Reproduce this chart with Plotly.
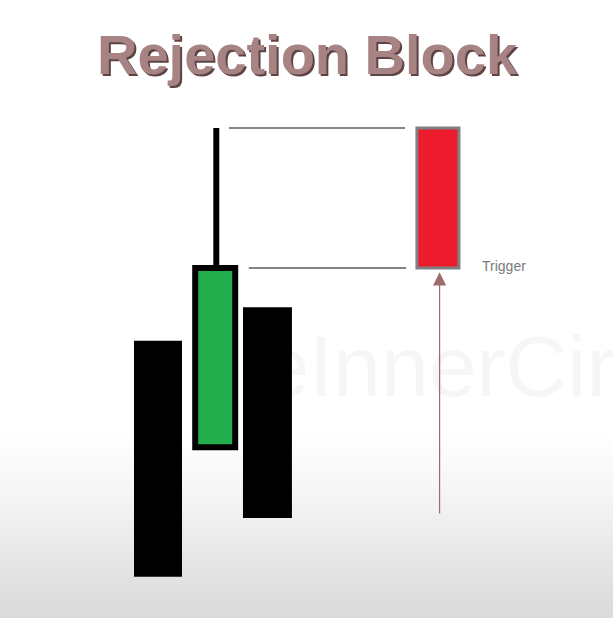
import base64
import plotly.graph_objects as go

# candle bodies (price units), left to right
candle_x = [1, 2.04, 2.99, 6.09]
candle_open = [69.6, 54.4, 74.4, 100]
candle_close = [35.9, 80, 44.3, 80]
candle_fill = ["#000000", "#22ac4b", "#000000", "#ec1c2e"]
candle_edge = ["#000000", "#000000", "#000000", "#808080"]

# upper wick of the rejection candle
wick_x = [2.06, 2.06]
wick_y = [80, 100]

# high / trigger levels drawn across to the red block
level_y = [100, 80]
level_x0 = [2.29, 2.65]
level_x1 = [5.49, 5.51]

arrow_from = 44.7
arrow_to = 79.4

svg = ('<svg xmlns="http://www.w3.org/2000/svg" width="10" height="100" preserveAspectRatio="none">'
       '<defs><linearGradient id="g" x1="0" y1="0" x2="0" y2="1">'
       '<stop offset="0" stop-color="#ffffff"/><stop offset="0.70" stop-color="#ffffff"/>'
       '<stop offset="0.80" stop-color="#f5f5f5"/><stop offset="0.95" stop-color="#e0e0e0"/>'
       '<stop offset="1" stop-color="#dadada"/>'
       '</linearGradient></defs><rect width="10" height="100" fill="url(#g)"/></svg>')
bg = "data:image/svg+xml;base64," + base64.b64encode(svg.encode()).decode()

fig = go.Figure()

# faint watermark, sits under the candles
fig.add_trace(go.Scatter(x=[2.88], y=[64.8], mode="text", text=["eInnerCirc"],
                         textposition="middle right", hoverinfo="skip",
                         textfont=dict(family="Liberation Sans", size=86, color="rgba(0,0,0,0.035)")))

fig.add_trace(go.Scatter(x=wick_x, y=wick_y, mode="lines", hoverinfo="skip",
                         line=dict(color="#000000", width=6)))

for i in range(len(level_y)):
    fig.add_trace(go.Scatter(x=[level_x0[i], level_x1[i]], y=[level_y[i], level_y[i]], mode="lines",
                             hoverinfo="skip", line=dict(color="#5c5c5c", width=1.5)))

widths = [0.873, 0.727, 0.89, 0.764]
lws = [0, 6, 0, 3]
for i in range(len(candle_x)):
    lo = min(candle_open[i], candle_close[i])
    hi = max(candle_open[i], candle_close[i])
    fig.add_trace(go.Bar(x=[candle_x[i]], y=[hi - lo], base=[lo], width=widths[i],
                         marker=dict(color=candle_fill[i], line=dict(color=candle_edge[i], width=lws[i])),
                         hoverinfo="skip"))

fig.add_annotation(x=candle_x[3] + 0.03, y=arrow_to, ax=candle_x[3] + 0.03, ay=arrow_from,
                   xref="x", yref="y", axref="x", ayref="y", text="", showarrow=True,
                   arrowhead=2, arrowsize=2.2, arrowwidth=1.2, arrowcolor="#9c6b6d")

fig.add_annotation(x=6.85, y=80.3, xref="x", yref="y", text="Trigger", showarrow=False,
                   xanchor="left", yanchor="middle",
                   font=dict(family="Liberation Sans", size=14, color="#7a7a7a"))

fig.add_annotation(x=0.5016, y=0.912, xref="paper", yref="paper", text="<b>Rejection Block</b>",
                   showarrow=False, xanchor="center", yanchor="middle",
                   font=dict(family="Liberation Sans", size=56, color="#a78384",
                             shadow="2px 2px 0px #5e4343"))

fig.update_layout(
    width=613, height=618, margin=dict(l=0, r=0, t=0, b=0),
    paper_bgcolor="#ffffff", plot_bgcolor="rgba(0,0,0,0)",
    showlegend=False, barmode="overlay",
    images=[dict(source=bg, xref="paper", yref="paper", x=0, y=1, sizex=1, sizey=1,
                 sizing="stretch", layer="below", xanchor="left", yanchor="top")],
    xaxis=dict(range=[-1.873, 9.273], visible=False, fixedrange=True),
    yaxis=dict(range=[30, 118.29], visible=False, fixedrange=True),
)

fig.write_html("out.html", config={"displayModeBar": False},
               post_script="document.body.style.margin='0';document.body.style.overflow='hidden';")
